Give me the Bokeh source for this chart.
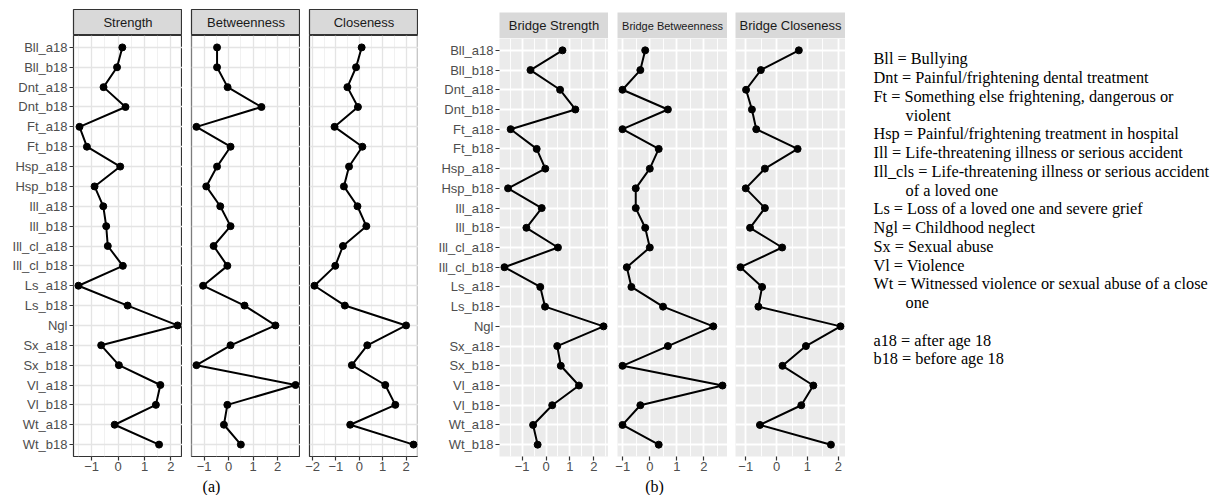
import math
from bokeh.plotting import figure
from bokeh.layouts import row, column
from bokeh.models import Range1d, FixedTicker, ColumnDataSource
from bokeh.core.properties import value
from bokeh.embed import file_html
from bokeh.resources import INLINE

# ---------------- data ----------------
nodes = ["Bll_a18", "Bll_b18", "Dnt_a18", "Dnt_b18", "Ft_a18", "Ft_b18",
         "Hsp_a18", "Hsp_b18", "Ill_a18", "Ill_b18", "Ill_cl_a18", "Ill_cl_b18",
         "Ls_a18", "Ls_b18", "Ngl", "Sx_a18", "Sx_b18", "Vl_a18", "Vl_b18",
         "Wt_a18", "Wt_b18"]

strength = [0.16, -0.04, -0.55, 0.28, -1.46, -1.18, 0.08, -0.89, -0.56, -0.45,
            -0.39, 0.18, -1.50, 0.36, 2.25, -0.64, 0.03, 1.60, 1.43, -0.13, 1.55]
betweenness = [-0.47, -0.47, -0.04, 1.34, -1.31, 0.08, -0.47, -0.91, -0.34, 0.08,
               -0.61, -0.05, -1.04, 0.65, 1.91, 0.08, -1.31, 2.73, -0.05, -0.19, 0.50]
closeness = [0.10, -0.14, -0.51, -0.06, -1.06, 0.13, -0.44, -0.66, -0.08, 0.30,
             -0.70, -1.03, -1.92, -0.62, 2.00, 0.34, -0.32, 1.11, 1.54, -0.39, 2.32]
bridge_strength = [0.69, -0.65, 0.59, 1.23, -1.48, -0.39, -0.03, -1.59, -0.18, -0.82,
                   0.50, -1.74, -0.24, -0.04, 2.41, 0.47, 0.62, 1.38, 0.26, -0.54, -0.35]
bridge_betweenness = [-0.17, -0.35, -1.01, 0.67, -1.01, 0.33, 0.00, -0.52, -0.52, -0.17,
                      0.00, -0.85, -0.68, 0.49, 2.35, 0.67, -1.01, 2.69, -0.35, -1.01, 0.33]
bridge_closeness = [0.72, -0.51, -0.99, -0.80, -0.66, 0.68, -0.38, -1.00, -0.38, -0.86,
                    0.18, -1.17, -0.47, -0.59, 2.07, 0.95, 0.19, 1.19, 0.80, -0.54, 1.76]

titles_a = ["Strength", "Betweenness", "Closeness"]
titles_b = ["Bridge Strength", "Bridge Betweenness", "Bridge Closeness"]
captions = ["(a)", "(b)"]

legend_text = ["Bll = Bullying",
               "Dnt = Painful/frightening dental treatment",
               "Ft = Something else frightening, dangerous or",
               "violent",
               "Hsp = Painful/frightening treatment in hospital",
               "Ill = Life-threatening illness or serious accident",
               "Ill_cls = Life-threatening illness or serious accident",
               "of a loved one",
               "Ls = Loss of a loved one and severe grief",
               "Ngl = Childhood neglect",
               "Sx = Sexual abuse",
               "Vl = Violence",
               "Wt = Witnessed violence or sexual abuse of a close",
               "one",
               "",
               "a18 = after age 18",
               "b18 = before age 18"]
legend_indent = [0, 0, 0, 1, 0, 0, 0, 1, 0, 0, 0, 0, 0, 1, 0, 0, 0]

# ---------------- helpers ----------------
SANS = "Liberation Sans"
SERIF = "Liberation Serif"
TOTAL_W = 1218
ROW_H = 476
CAP_H = 19
BOTTOM = 20
n = len(nodes)
ys = list(range(n))


def expand(vals):
    lo, hi = min(vals), max(vals)
    pad = 0.05 * (hi - lo)
    return lo - pad, hi + pad


def data_panel(vals, theme, left, frame_w, frame_h, show_y):
    lo, hi = expand(vals)
    majors = list(range(math.ceil(lo), math.floor(hi) + 1))
    minors = [k + 0.5 for k in range(math.floor(lo) - 1, math.ceil(hi) + 1) if lo <= k + 0.5 <= hi]
    p = figure(width=left + frame_w, height=frame_h + BOTTOM,
               x_range=Range1d(lo, hi), y_range=Range1d(n - 1 + 0.6, -0.6),
               y_axis_location="left" if show_y else None,
               output_backend="svg", toolbar_location=None, title=None,
               min_border_left=left, min_border_right=0, min_border_top=0,
               min_border_bottom=BOTTOM)
    xt = FixedTicker(ticks=majors, minor_ticks=minors)
    yt = FixedTicker(ticks=ys)
    p.xgrid.ticker = xt
    p.ygrid.ticker = yt
    if theme == "bw":
        p.background_fill_color = "white"
        p.outline_line_color = "#333333"
        p.outline_line_width = 1.2
        gc, gw, mc, mw = "#e4e4e4", 1.3, "#ededed", 0.8
    else:
        p.background_fill_color = "#ebebeb"
        p.outline_line_color = None
        gc, gw, mc, mw = "white", 1.8, "white", 0.9
    p.xgrid.grid_line_color = gc
    p.xgrid.grid_line_width = gw
    p.xgrid.minor_grid_line_color = mc
    p.xgrid.minor_grid_line_width = mw
    p.ygrid.grid_line_color = gc
    p.ygrid.grid_line_width = gw
    p.border_fill_color = "white"

    ax = p.xaxis[0]
    ax.ticker = xt
    ax.major_label_overrides = {k: ("\u2212" + str(-k) if k < 0 else str(k)) for k in majors}
    ax.axis_line_color = None
    ax.minor_tick_line_color = None
    ax.major_tick_in = 0
    ax.major_tick_out = 4
    ax.major_tick_line_color = "#333333"
    ax.major_tick_line_width = 1.2
    ax.major_label_standoff = 1
    ax.major_label_text_font = SANS
    ax.major_label_text_font_size = "13px"
    ax.major_label_text_color = "#4d4d4d"
    if show_y:
        ay = p.yaxis[0]
        ay.ticker = yt
        ay.major_label_overrides = {i: nodes[i] for i in ys}
        ay.axis_line_color = None
        ay.minor_tick_line_color = None
        ay.major_tick_in = 0
        ay.major_tick_out = 4
        ay.major_tick_line_color = "#333333"
        ay.major_tick_line_width = 1.2
        ay.major_label_standoff = 2
        ay.major_label_text_font = SANS
        ay.major_label_text_font_size = "13px"
        ay.major_label_text_color = "#4d4d4d"

    src = ColumnDataSource(dict(x=vals, y=ys))
    p.line("x", "y", source=src, line_color="black", line_width=2)
    p.scatter("x", "y", source=src, size=7, fill_color="black", line_color="black")
    return p


def strip_panel(title, theme, left, frame_w, top, fsize="13px"):
    s = figure(width=left + frame_w, height=26 + top,
               x_range=Range1d(0, 1), y_range=Range1d(0, 1),
               x_axis_location=None, y_axis_location=None,
               output_backend="svg", toolbar_location=None, title=None,
               min_border_left=left, min_border_right=0, min_border_top=top,
               min_border_bottom=0)
    s.grid.grid_line_color = None
    s.background_fill_color = "#d9d9d9"
    s.border_fill_color = "white"
    s.outline_line_color = "#333333" if theme == "bw" else None
    s.outline_line_width = 1.2
    s.text(x=[0.5], y=[0.5], text=[title], text_align="center", text_baseline="middle",
           text_font=value(SANS), text_font_size=value(fsize), text_color="#1a1a1a")
    return s


# ---------------- panels ----------------
# (left border, frame width)
geo_a = [(73, 109), (9, 109), (9, 109)]
geo_b = [(81, 109), (9, 110), (8, 110)]
series_a = [strength, betweenness, closeness]
series_b = [bridge_strength, bridge_betweenness, bridge_closeness]

cols = []
used_w = 0
for i in range(3):
    left, fw = geo_a[i]
    s = strip_panel(titles_a[i], "bw", left, fw, 9)
    p = data_panel(series_a[i], "bw", left, fw, ROW_H - 35 - BOTTOM, i == 0)
    cols.append(column(s, p, spacing=0))
    used_w += left + fw
for i in range(3):
    left, fw = geo_b[i]
    s = strip_panel(titles_b[i], "gray", left, fw, 12, "11px" if i == 1 else "13px")
    p = data_panel(series_b[i], "gray", left, fw, ROW_H - 38 - BOTTOM, i == 0)
    cols.append(column(s, p, spacing=0))
    used_w += left + fw

# ---------------- legend text ----------------
LEG_W = TOTAL_W - used_w
leg = figure(width=LEG_W, height=ROW_H, x_range=Range1d(0, LEG_W), y_range=Range1d(ROW_H, 0),
             x_axis_location=None, y_axis_location=None, output_backend="svg",
             toolbar_location=None, title=None, min_border=0)
leg.grid.grid_line_color = None
leg.outline_line_color = None
leg.background_fill_color = "white"
lsrc = ColumnDataSource(dict(
    x=[28 + 32 * d for d in legend_indent],
    y=[58.3 + 18.75 * i for i in range(len(legend_text))],
    t=legend_text))
leg.text("x", "y", text="t", source=lsrc, text_align="left", text_baseline="middle",
         text_font=value(SERIF), text_font_size=value("16.3px"), text_color="black")

# ---------------- captions (a) / (b) ----------------
cap = figure(width=TOTAL_W, height=CAP_H, x_range=Range1d(0, TOTAL_W), y_range=Range1d(CAP_H, 0),
             x_axis_location=None, y_axis_location=None, output_backend="svg",
             toolbar_location=None, title=None, min_border=0)
cap.grid.grid_line_color = None
cap.outline_line_color = None
cap.background_fill_color = "white"
cap.text(x=[211, 654], y=[10, 10], text=captions, text_align="center", text_baseline="middle",
         text_font=value(SERIF), text_font_size=value("16px"), text_color="black")

layout = column(row(*cols, leg, spacing=0), cap, spacing=0)
open("out.html", "w").write(file_html(layout, INLINE))
